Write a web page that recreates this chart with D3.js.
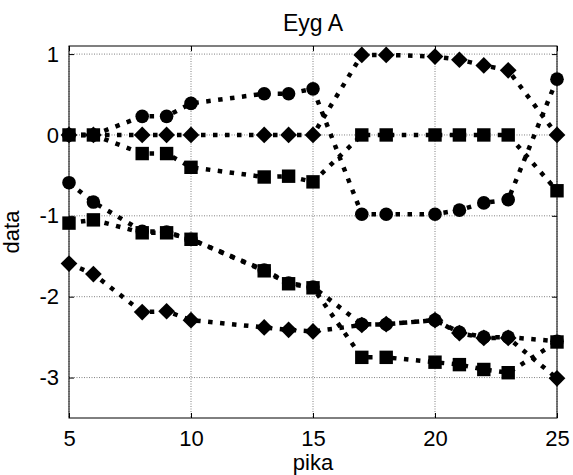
<!DOCTYPE html>
<html>
<head>
<meta charset="utf-8">
<script src="https://cdn.jsdelivr.net/npm/d3@7"></script>
<style>
  body { margin: 0; background: #fff; }
  svg { display: block; font-family: "Liberation Sans", Arial, sans-serif; }
</style>
</head>
<body>
<svg id="chart" width="573" height="475"></svg>
<script>
// x positions (pika) shared by every series
const pika = [5, 6, 8, 9, 10, 13, 14, 15, 17, 18, 20, 21, 22, 23, 25];

// series values
const upperCircle  = [0, 0, 0.23, 0.23, 0.39, 0.51, 0.51, 0.57, -0.98, -0.98, -0.98, -0.93, -0.84, -0.80, 0.69];
const upperDiamond = [0, 0, 0, 0, 0, 0, 0, 0, 0.99, 0.99, 0.97, 0.93, 0.86, 0.80, 0];
const upperSquare  = [0, 0, -0.23, -0.23, -0.40, -0.52, -0.51, -0.58, 0, 0, 0, 0, 0, 0, -0.69];
const lowerCircle  = [-0.59, -0.83, -1.19, -1.20, -1.29, -1.67, -1.83, -1.88, -2.34, -2.34, -2.29, -2.44, -2.50, -2.50, -2.55];
const lowerSquare  = [-1.09, -1.05, -1.21, -1.21, -1.29, -1.68, -1.84, -1.89, -2.75, -2.75, -2.81, -2.84, -2.90, -2.94, -2.56];
const lowerDiamond = [-1.59, -1.72, -2.19, -2.18, -2.29, -2.38, -2.41, -2.43, -2.35, -2.34, -2.29, -2.45, -2.51, -2.51, -3.01];

const xTicks = [5, 10, 15, 20, 25];
const yTicks = [-3, -2, -1, 0, 1];

const series = [
    { values: upperCircle,  marker: 'circle' },
    { values: upperDiamond, marker: 'diamond' },
    { values: upperSquare,  marker: 'square' },
    { values: lowerCircle,  marker: 'circle' },
    { values: lowerSquare,  marker: 'square' },
    { values: lowerDiamond, marker: 'diamond' }
];

const width = 573, height = 475;
const margin = { top: 46, right: 16, bottom: 57, left: 69 };
const innerW = width - margin.left - margin.right;
const innerH = height - margin.top - margin.bottom;

const svg = d3.select('#chart');
const g = svg.append('g').attr('transform', `translate(${margin.left},${margin.top})`);

const x = d3.scaleLinear().domain([5, 25]).range([0, innerW]);
const y = d3.scaleLinear().domain([-3.5, 1.1]).range([innerH, 0]);

// Grid (MATLAB style dotted)
const grid = g.append('g').attr('stroke', '#808080').attr('stroke-width', 1).attr('stroke-dasharray', '1,1.5');
grid.selectAll('line.gx').data(xTicks).join('line')
    .attr('x1', d => x(d)).attr('x2', d => x(d))
    .attr('y1', 0).attr('y2', innerH);
grid.selectAll('line.gy').data(yTicks).join('line')
    .attr('x1', 0).attr('x2', innerW)
    .attr('y1', d => y(d)).attr('y2', d => y(d));

// Axes with inward ticks on all four sides
const fontSize = 22;
const bottomAxis = d3.axisBottom(x).tickValues(xTicks).tickSize(-5).tickPadding(12);
const topAxis = d3.axisTop(x).tickValues(xTicks).tickSize(-5).tickFormat('');
const leftAxis = d3.axisLeft(y).tickValues(yTicks).tickSize(-5).tickPadding(10).tickFormat(d3.format('d'));
const rightAxis = d3.axisRight(y).tickValues(yTicks).tickSize(-5).tickFormat('');

function styleAxis(sel) {
    sel.select('.domain').remove();
    sel.selectAll('line').attr('stroke', '#000');
    sel.selectAll('text').attr('fill', '#000')
        .style('font-size', fontSize + 'px')
        .style('font-family', '"Liberation Sans", Arial, sans-serif');
}

g.append('g').attr('transform', `translate(0,${innerH})`).call(bottomAxis).call(styleAxis);
g.append('g').call(topAxis).call(styleAxis);
g.append('g').call(leftAxis).call(styleAxis);
g.append('g').attr('transform', `translate(${innerW},0)`).call(rightAxis).call(styleAxis);

// minus sign like MATLAB (hyphen)
g.selectAll('text').text(function() { return d3.select(this).text().replace('\u2212', '-'); });

// Box
g.append('rect').attr('width', innerW).attr('height', innerH)
    .attr('fill', 'none').attr('stroke', '#000').attr('stroke-width', 1);

// Series
const line = d3.line().x(d => x(d[0])).y(d => y(d[1]));
// MATLAB diamond: a square turned 45 degrees
const symbolRhomb = {
    draw(ctx, size) {
        const r = Math.sqrt(size / 2);
        ctx.moveTo(0, -r); ctx.lineTo(r, 0); ctx.lineTo(0, r); ctx.lineTo(-r, 0); ctx.closePath();
    }
};
const symbols = {
    circle: d3.symbol().type(d3.symbolCircle).size(145),
    square: d3.symbol().type(d3.symbolSquare).size(180),
    diamond: d3.symbol().type(symbolRhomb).size(140)
};

series.forEach(s => {
    const pts = pika.map((p, i) => [p, s.values[i]]);
    const sg = g.append('g');
    sg.append('path').datum(pts)
        .attr('d', line)
        .attr('fill', 'none')
        .attr('stroke', '#000')
        .attr('stroke-width', 4.5)
        .attr('stroke-dasharray', '4.5,7.5');
    sg.selectAll('path.m').data(pts).join('path')
        .attr('class', 'm')
        .attr('transform', d => `translate(${x(d[0])},${y(d[1])})`)
        .attr('d', symbols[s.marker])
        .attr('fill', '#000');
});

// Labels
svg.append('text')
    .attr('x', margin.left + innerW / 2).attr('y', 31)
    .attr('text-anchor', 'middle')
    .style('font-size', '23px')
    .text('Eyg A');

svg.append('text')
    .attr('x', margin.left + innerW / 2).attr('y', 470)
    .attr('text-anchor', 'middle')
    .style('font-size', fontSize + 'px')
    .text('pika');

svg.append('text')
    .attr('transform', `translate(19,${margin.top + innerH / 2}) rotate(-90)`)
    .attr('text-anchor', 'middle')
    .style('font-size', fontSize + 'px')
    .text('data');
</script>
</body>
</html>
